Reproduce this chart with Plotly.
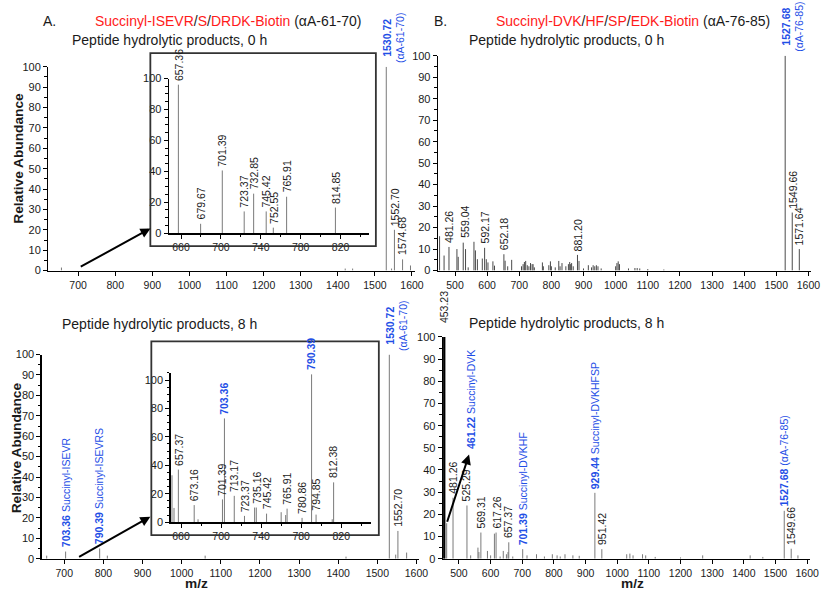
import plotly.graph_objects as go

W, H = 828, 599
FONT = "Arial, 'Liberation Sans', sans-serif"
DARK = "#1a1a1a"
BLUE = "#1f4fe6"
RED = "#ff1a1a"

# ---------------- data ----------------
# A, 0 h, full range
a0_mz = [655, 1420, 1440, 1530.72, 1545, 1552.70, 1574.68, 1596]
a0_int = [1.5, 1, 1, 100, 1, 20, 5.5, 2.5]
a0_labels = [1552.70, 1574.68]

# A, 0 h, inset 650-850
a0i_mz = [657.36, 679.67, 701.39, 723.37, 732.85, 745.42, 752.55, 765.91, 814.85]
a0i_int = [96, 6, 40.5, 14, 25.5, 14, 3.5, 23.5, 16.5]
a0i_labels = [657.36, 679.67, 701.39, 723.37, 732.85, 745.42, 752.55, 765.91, 814.85]

# A, 8 h, full range
a8_mz = [655, 703.36, 790.39, 810, 1060, 1420, 1530.72, 1547, 1552.70, 1575]
a8_int = [1.5, 3.5, 5, 1.5, 1.5, 1, 100, 2, 13.6, 3]
a8_labels = [1552.70]
a8_named = {703.36: "Succinyl-ISEVR", 790.39: "Succinyl-ISEVRS"}

# A, 8 h, inset
a8i_mz = [651, 653, 657.37, 673.16, 677, 701.39, 703.36, 713.17, 723.37, 733.5, 735.16,
          745.42, 760, 764.5, 765.91, 780.86, 790.39, 794.85, 811, 812.38]
a8i_int = [33, 10, 37, 12, 2, 16, 73, 18.5, 4.4, 10.3, 10.3,
           6, 7, 5, 9.5, 3, 104, 5.3, 2, 28]
a8i_labels = [657.37, 673.16, 701.39, 713.17, 723.37, 735.16, 745.42, 765.91, 780.86, 794.85, 812.38]
a8i_blue = [703.36, 790.39]

# B, 0 h
b0_mz = [452, 466, 481.26, 506, 510, 525.6, 532.8, 541, 559.04, 563.6, 569.7, 585, 592.17,
         597.4, 602.6, 618, 623, 652.18, 656, 664, 676.4,
         707, 712, 716, 720, 725, 730, 735, 740, 743, 747,
         772, 775, 792, 797, 800, 812, 823, 827, 833, 845, 853, 857, 860, 863, 868,
         881.20, 886, 900, 915, 925, 930, 935, 940, 945, 955,
         1000, 1004, 1008, 1012, 1040, 1060, 1067, 1075, 1100, 1150,
         1527.68, 1549.66, 1571.64]
b0_int = [16, 7, 11, 10, 6.4, 13, 10, 1.5, 13.4, 9.4, 5.3, 5.6, 10.6,
          5.3, 3.8, 4.3, 2.3, 7.6, 4.6, 2, 5,
          2, 3, 4, 4.5, 2.5, 2, 3.5, 3, 3, 1.5,
          3.8, 2, 2.5, 4.3, 2, 1.5, 4.5, 2, 3.5, 2, 3, 4, 3, 3.5, 2,
          7.3, 4.5, 1, 2.5, 1.5, 2.5, 2, 2.5, 2, 1,
          2, 3.5, 4.3, 3, 1, 1.2, 1.2, 1, 0.7, 0.5,
          100, 27, 10]
b0_labels = [481.26, 559.04, 592.17, 652.18, 881.20, 1549.66, 1571.64]

# B, 8 h
b8_mz = [453.23, 461.22, 481.26, 525.29, 537, 560, 563, 569.31, 590, 600, 612, 617.26, 630,
         640, 650, 655, 657.37, 670, 701.39, 715, 745, 770, 795, 810, 820, 835, 860, 880,
         929.44, 951.42, 1030, 1040, 1050, 1080, 1090, 1120, 1200, 1270, 1420, 1460,
         1527.68, 1549.66, 1571]
b8_int = [100, 16, 27.5, 24, 1.5, 5, 3, 11.8, 3.5, 1.5, 11.3, 11.8, 1,
          3.5, 2, 3, 7.4, 1, 4.3, 1.5, 2, 1, 2, 1.5, 1, 2, 1.5, 1.3,
          29.7, 4.3, 2, 2.3, 1.5, 2, 1.5, 0.8, 0.6, 1.5, 1.5, 0.8,
          21.6, 4.5, 1.5]
b8_labels = [453.23, 481.26, 525.29, 569.31, 617.26, 657.37, 951.42, 1549.66]
b8_named = {461.22: "Succinyl-DVK", 701.39: "Succinyl-DVKHF",
            929.44: "Succinyl-DVKHFSP", 1527.68: "(αA-76-85)"}

main_ticks_a = list(range(700, 1601, 100))
main_ticks_b = list(range(500, 1601, 100))
inset_ticks = [660, 700, 740, 780, 820]
y_ticks = list(range(0, 101, 10))
inset_y_ticks = list(range(0, 101, 20))


# ---------------- helpers ----------------
def px(x):
    return x / W


def py(y):
    return 1 - y / H


def lin_range(p0, p1, va, pa, vb, pb):
    s = (vb - va) / (pb - pa)
    return [va + (p0 - pa) * s, va + (p1 - pa) * s]


def sticks(mz, inten):
    xs, ys = [], []
    for m, v in zip(mz, inten):
        xs += [m, m, None]
        ys += [0, v, None]
    return xs, ys


def lookup(mz, inten, m):
    return inten[mz.index(m)]


fig = go.Figure()

layout = dict(width=W, height=H, margin=dict(l=0, r=0, t=0, b=0),
              paper_bgcolor="white", plot_bgcolor="white", showlegend=False,
              font=dict(family=FONT, color=DARK))


def add_axes(n, xdom, xref, xticks, ydom, yref, yticks, xminor=None, yminor=None,
             xsize=10.5, ysize=11):
    sx = "" if n == 1 else str(n)
    xr = lin_range(xdom[0], xdom[1], *xref)
    yr = lin_range(ydom[0], ydom[1], *yref)
    common = dict(showline=True, linecolor="black", linewidth=1.5, ticks="outside",
                  ticklen=4, tickwidth=1, tickcolor="black", showgrid=False,
                  zeroline=False, fixedrange=True)
    xa = dict(domain=[px(xdom[0]), px(xdom[1])], range=xr, anchor="y" + sx,
              tickvals=xticks, tickfont=dict(size=xsize, color=DARK, family=FONT), **common)
    ya = dict(domain=[py(ydom[0]), py(ydom[1])], range=yr, anchor="x" + sx,
              tickvals=yticks, tickfont=dict(size=ysize, color=DARK, family=FONT), **common)
    if xminor:
        xa["minor"] = dict(ticks="outside", ticklen=2, dtick=xminor, tickcolor="black")
    if yminor:
        ya["minor"] = dict(ticks="outside", ticklen=2.5, dtick=yminor, tickcolor="black")
    layout["xaxis" + sx] = xa
    layout["yaxis" + sx] = ya
    return "x" + sx, "y" + sx


# axes: 1 A-0h main, 2 A-0h inset, 3 B-0h, 4 A-8h main, 5 A-8h inset, 6 B-8h
A0 = add_axes(1, (49, 420), (700, 79, 1600, 416.5), main_ticks_a,
              (270, 62), (0, 270, 100, 62), y_ticks, yminor=5)
A0i = add_axes(2, (171, 373), (660, 183, 820, 344.3), inset_ticks,
               (231.7, 74), (0, 231.7, 100, 74), inset_y_ticks, xminor=20, yminor=5)
B0 = add_axes(3, (443, 820), (500, 460, 1600, 817.3), main_ticks_b,
              (270, 50.7), (0, 270, 100, 50.7), y_ticks, yminor=5)
A8 = add_axes(4, (42.3, 424), (700, 65, 1600, 421), main_ticks_a,
              (564, 355.7), (0, 564, 100, 355.7), y_ticks, yminor=5)
A8i = add_axes(5, (172.7, 375), (660, 183, 820, 345), inset_ticks,
               (526.7, 374), (0, 526.7, 100, 381.7), inset_y_ticks, xminor=20, yminor=5)
B8 = add_axes(6, (448, 819), (500, 464, 1600, 816), main_ticks_b,
              (564, 337.7), (0, 564, 100, 337.7), y_ticks, yminor=5)

GRAY = "#7a7a7a"
for (mz, it, axs, col) in [(a0_mz, a0_int, A0, GRAY), (a0i_mz, a0i_int, A0i, GRAY),
                           (b0_mz, b0_int, B0, "#4a4a4a"), (a8_mz, a8_int, A8, GRAY),
                           (a8i_mz, a8i_int, A8i, GRAY), (b8_mz, b8_int, B8, GRAY)]:
    xs, ys = sticks(mz, it)
    fig.add_trace(go.Scatter(x=xs, y=ys, mode="lines", xaxis=axs[0], yaxis=axs[1],
                             line=dict(color=col, width=1), hoverinfo="skip"))

# thick base peak in B 8h
xs, ys = sticks(b8_mz[:1], b8_int[:1])
fig.add_trace(go.Scatter(x=xs, y=ys, mode="lines", xaxis=B8[0], yaxis=B8[1],
                         line=dict(color="black", width=2.5), hoverinfo="skip"))

ann = []


def lab(text, x, y, axs, color=DARK, yshift=2, xshift=0, size=10.5):
    ann.append(dict(text=text, x=x, y=y, xref=axs[0], yref=axs[1], textangle=-90,
                    showarrow=False, xanchor="center", yanchor="bottom",
                    yshift=yshift, xshift=xshift, align="center",
                    font=dict(size=size, color=color, family=FONT)))


def black_labels(mz, it, labels, axs, shifts=None):
    shifts = shifts or {}
    for m in labels:
        xs_, ys_ = shifts.get(m, (0, 2))
        lab(f"{m:.2f}", m, lookup(mz, it, m), axs, xshift=xs_, yshift=ys_)


black_labels(a0_mz, a0_int, a0_labels, A0)
black_labels(a0i_mz, a0i_int, a0i_labels, A0i)
black_labels(b0_mz, b0_int, b0_labels, B0, shifts={559.04: (-9, 2)})
black_labels(a8_mz, a8_int, a8_labels, A8)
black_labels(a8i_mz, a8i_int, a8i_labels, A8i)
black_labels(b8_mz, b8_int, b8_labels, B8, shifts={453.23: (0, 12)})

# blue precursor labels (two lines)
lab("<b>1530.72</b><br>(αA-61-70)", 1530.72, lookup(a0_mz, a0_int, 1530.72), A0,
    color=BLUE, xshift=7)
lab("<b>1530.72</b><br>(αA-61-70)", 1530.72, lookup(a8_mz, a8_int, 1530.72), A8,
    color=BLUE, xshift=7)
lab("<b>1527.68</b><br>(αA-76-85)", 1527.68, lookup(b0_mz, b0_int, 1527.68), B0,
    color=BLUE, xshift=7)

for m in a8i_blue:
    lab(f"<b>{m:.2f}</b>", m, lookup(a8i_mz, a8i_int, m), A8i, color=BLUE)

for m, name in a8_named.items():
    lab(f"<b>{m:.2f}</b> {name}", m, lookup(a8_mz, a8_int, m), A8, color=BLUE)

for m, name in b8_named.items():
    if m == 461.22:
        lab(f"<b>{m:.2f}</b> {name}", 536, 48.5, B8, color=BLUE, yshift=0)
        ann.append(dict(x=532, y=47, ax=m, ay=lookup(b8_mz, b8_int, m),
                        xref=B8[0], yref=B8[1], axref=B8[0], ayref=B8[1], text="",
                        showarrow=True, arrowhead=2, arrowsize=1, arrowwidth=2,
                        arrowcolor="black"))
    else:
        lab(f"<b>{m:.2f}</b> {name}", m, lookup(b8_mz, b8_int, m), B8, color=BLUE)

# arrows to insets
for axs, tail, head in [(A0, (703, 1.5), (895, 20.7)), (A8, (734, 0.5), (920, 20.6))]:
    ann.append(dict(x=head[0], y=head[1], ax=tail[0], ay=tail[1], xref=axs[0], yref=axs[1],
                    axref=axs[0], ayref=axs[1], text="", showarrow=True, arrowhead=2,
                    arrowsize=1, arrowwidth=2, arrowcolor="black"))


def ptext(text, x, y, size=14, xanchor="left", angle=0, bold=False):
    ann.append(dict(text=(f"<b>{text}</b>" if bold else text), x=px(x), y=py(y),
                    xref="paper", yref="paper", showarrow=False, xanchor=xanchor,
                    yanchor="middle", textangle=angle, borderpad=0,
                    font=dict(size=size, color=DARK, family=FONT)))


def red(s):
    return f"<span style='color:{RED}'>{s}</span>"


ptext("A.", 42, 15)
ptext(red("Succinyl-ISEVR") + "/" + red("S") + "/" + red("DRDK-Biotin") + " (αA-61-70)", 95, 15)
ptext("B.", 438, 15)
ptext(red("Succinyl-DVK") + "/" + red("HF") + "/" + red("SP") + "/" + red("EDK-Biotin") + " (αA-76-85)", 500, 15)
ptext("Peptide hydrolytic products, 0 h", 72, 35)
ptext("Peptide hydrolytic products, 0 h", 473, 35)
ptext("Peptide hydrolytic products, 8 h", 62, 324)
ptext("Peptide hydrolytic products, 8 h", 473, 323.5)
ptext("Relative Abundance", 19, 155, size=13.7, xanchor="center", angle=-90, bold=True)
ptext("Relative Abundance", 17.5, 451, size=13.7, xanchor="center", angle=-90, bold=True)
ptext("m/z", 199, 589, size=13.7, xanchor="center", bold=True)
ptext("m/z", 639, 589, size=13.7, xanchor="center", bold=True)

shapes = []
for (x0, y0, x1, y1) in [(152, 48, 380, 245), (153, 342.3, 383, 540)]:
    shapes.append(dict(type="rect", xref="paper", yref="paper", x0=px(x0), x1=px(x1),
                       y0=py(y1), y1=py(y0), line=dict(color="#333", width=1.8),
                       fillcolor="rgba(0,0,0,0)", layer="above"))

layout["annotations"] = ann
layout["shapes"] = shapes
fig.update_layout(**layout)
fig.write_html("out.html",
               config={"displayModeBar": False, "staticPlot": True},
               post_script="document.body.style.margin='0px';"
                           "document.body.style.overflow='hidden';"
                           "document.documentElement.style.overflow='hidden';")
